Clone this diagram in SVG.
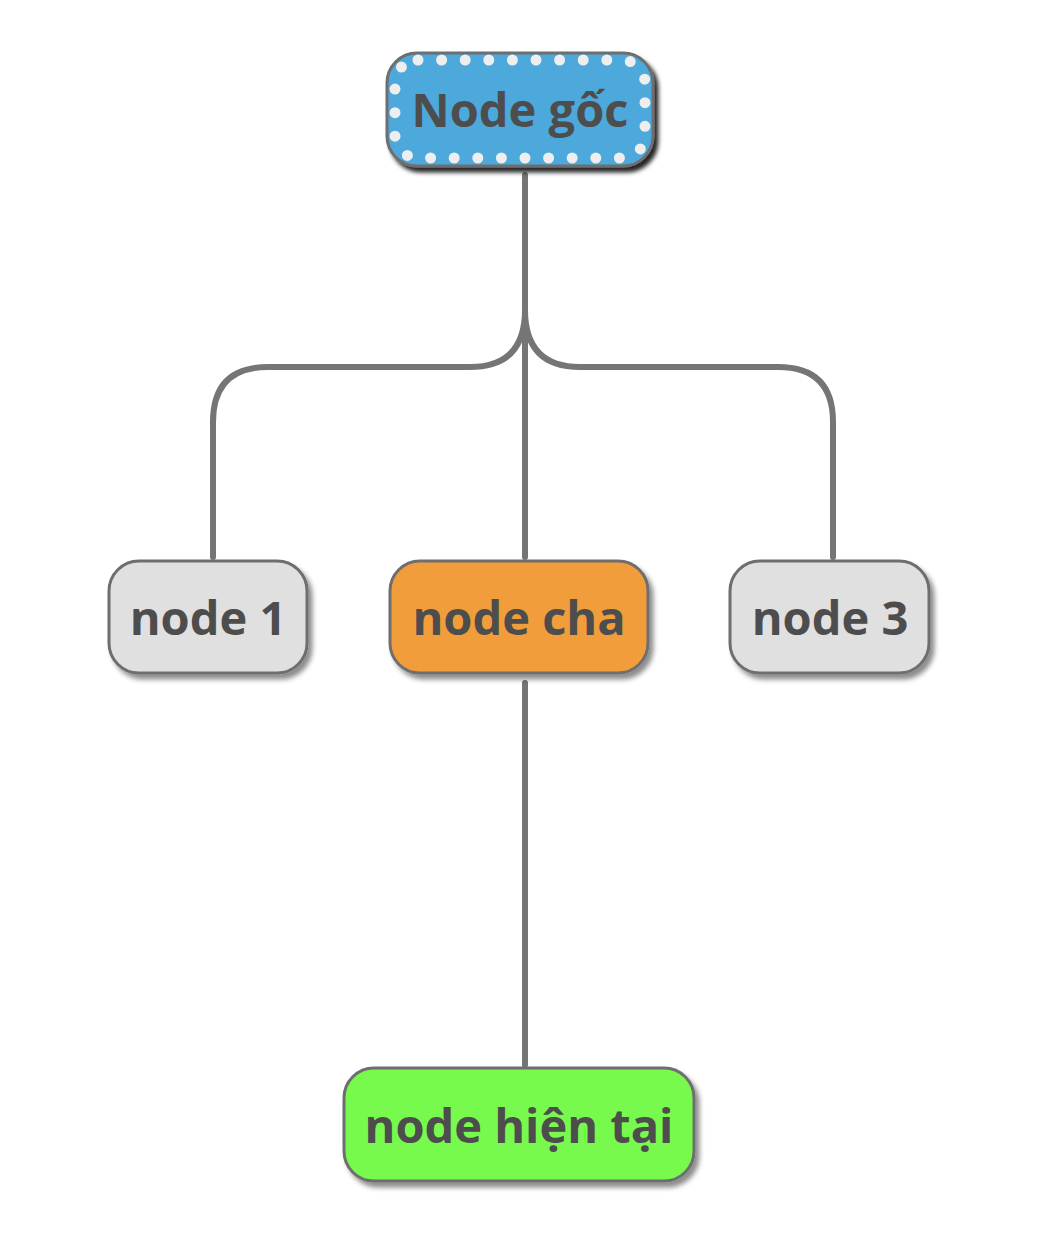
<svg xmlns="http://www.w3.org/2000/svg" width="1050" height="1258" viewBox="0 0 1050 1258">
  <style>
    .box { stroke: #6e6e6e; stroke-width: 3; }
    .label { font-family: "Open Sans", "Noto Sans", sans-serif; font-weight: bold; font-size: 47px; fill: #4d4d4d; text-anchor: middle; }
    .link { fill: none; stroke: #757575; stroke-width: 6; stroke-linecap: round; }
  </style>
  <defs>
    <filter id="shadow" x="-20%" y="-20%" width="150%" height="160%">
      <feDropShadow dx="4" dy="5" stdDeviation="2.5" flood-color="#000" flood-opacity="0.45"/>
    </filter>
    <filter id="shadowDark" x="-20%" y="-20%" width="150%" height="160%">
      <feDropShadow dx="4" dy="5" stdDeviation="2" flood-color="#000" flood-opacity="0.85"/>
    </filter>
  </defs>
  <rect width="1050" height="1258" fill="#ffffff"/>

  <!-- connectors -->
  <g id="connectors">
    <path class="link" d="M525 175 V310 Q525 367 470 367 H268 Q213 367 213 422 V557"/>
    <path class="link" d="M525 310 Q525 367 580 367 H778 Q833 367 833 422 V557"/>
    <path class="link" d="M525 310 V557"/>
    <path class="link" d="M525 683 V1065"/>
  </g>

  <!-- root -->
  <g id="node-root">
    <rect class="box" x="387" y="53" width="266" height="113" rx="30" fill="#4da8db" filter="url(#shadowDark)"/>
    <rect x="395" y="60" width="250" height="98" rx="23" fill="none" stroke="#eeeeee" stroke-width="11" stroke-linecap="round" stroke-dasharray="0 23.6"/>
    <text class="label" x="520" y="127">Node gốc</text>
  </g>

  <g id="node-1">
    <rect class="box" x="109" y="561" width="198" height="112" rx="30" fill="#e0e0e0" filter="url(#shadow)"/>
    <text class="label" x="208" y="635">node 1</text>
  </g>

  <g id="node-cha">
    <rect class="box" x="390" y="561" width="258" height="112" rx="30" fill="#f29d3a" filter="url(#shadow)"/>
    <text class="label" x="519" y="635">node cha</text>
  </g>

  <g id="node-3">
    <rect class="box" x="730" y="561" width="199" height="112" rx="30" fill="#e0e0e0" filter="url(#shadow)"/>
    <text class="label" x="830" y="635">node 3</text>
  </g>

  <g id="node-current">
    <rect class="box" x="344" y="1068" width="350" height="113" rx="30" fill="#77f94d" filter="url(#shadow)"/>
    <text class="label" x="519" y="1143">node hiện tại</text>
  </g>
</svg>
